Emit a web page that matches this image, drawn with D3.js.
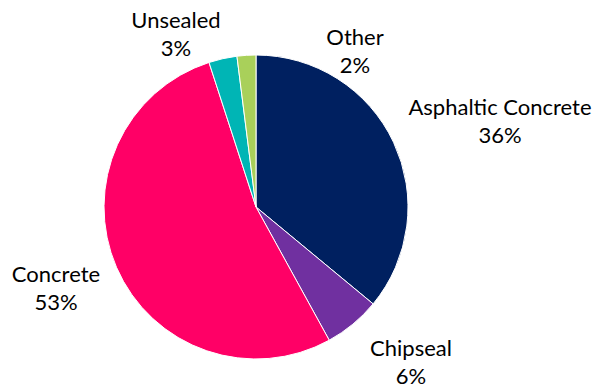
<!DOCTYPE html>
<html>
<head>
<meta charset="utf-8">
<script src="https://cdn.jsdelivr.net/npm/d3@7"></script>
<style>
  html, body { margin: 0; padding: 0; background: #fff; }
  svg text { font-family: Lato, "Open Sans", sans-serif; fill: #000; }
</style>
</head>
<body>
<svg id="chart" width="593" height="389"></svg>
<script>
// Road surface types, share of total length (%)
const categories = ["Asphaltic Concrete", "Chipseal", "Concrete", "Unsealed", "Other"];
const shares = [36, 6, 53, 3, 2];
const colors = ["#002060", "#7030A0", "#FF0066", "#00B5B5", "#A9D05A"];
// label anchor points (centre of the two-line label)
const labelX = [500, 411, 56, 176, 355];
const labelY = [121, 362, 288, 34, 51];

const svg = d3.select("#chart");
const cx = 256, cy = 207, r = 152;

const pie = d3.pie().sort(null).value(d => d.value);
const arc = d3.arc().innerRadius(0).outerRadius(r);
const data = categories.map((c, i) => ({ name: c, value: shares[i], color: colors[i], lx: labelX[i], ly: labelY[i] }));
const arcs = pie(data);

const g = svg.append("g").attr("transform", `translate(${cx},${cy})`);
g.selectAll("path").data(arcs).join("path")
  .attr("d", arc)
  .attr("fill", d => d.data.color)
  .attr("stroke", "#fff")
  .attr("stroke-width", 1);

const fmt = d3.format(".0%");
const labels = svg.selectAll("text.lbl").data(arcs).join("text")
  .attr("class", "lbl")
  .attr("text-anchor", "middle")
  .attr("font-size", 22);
labels.append("tspan")
  .attr("x", d => d.data.lx).attr("y", d => d.data.ly - 6)
  .text(d => d.data.name);
labels.append("tspan")
  .attr("x", d => d.data.lx).attr("y", d => d.data.ly + 22)
  .text(d => fmt(d.data.value / 100));
</script>
</body>
</html>
